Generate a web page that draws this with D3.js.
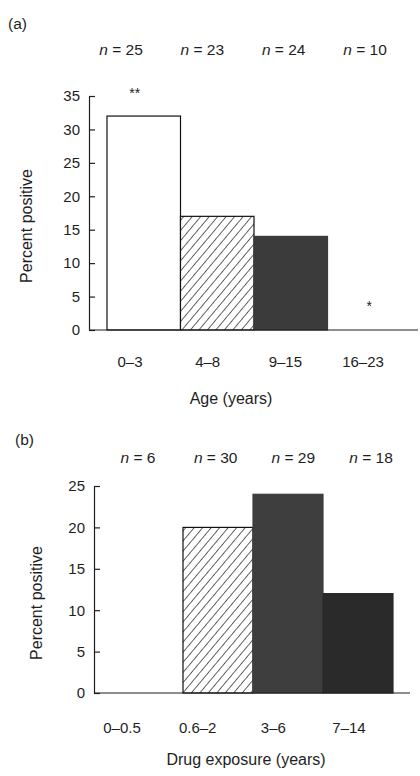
<!DOCTYPE html>
<html><head><meta charset="utf-8">
<script src="https://cdn.jsdelivr.net/npm/d3@7"></script>
<style>
html,body{margin:0;padding:0;background:#fff;}
text{font-family:"Liberation Sans",Arial,Helvetica,sans-serif;fill:#1e1e1e;}
</style></head>
<body><svg id="c" width="420" height="776"></svg>
<script>
// ---- data ----
const ageCats = ["0–3", "4–8", "9–15", "16–23"];
const ageValues = [32, 17, 14, 0];
const ageN = [25, 23, 24, 10];
const ageSig = ["**", "", "", "*"];
const ageTicks = [0, 5, 10, 15, 20, 25, 30, 35];

const drugCats = ["0–0.5", "0.6–2", "3–6", "7–14"];
const drugValues = [0, 20, 24, 12];
const drugN = [6, 30, 29, 18];
const drugTicks = [0, 5, 10, 15, 20, 25];

const fillsA = ["white", "hatch", "#3b3b3b", "white"];
const fillsB = ["white", "hatch", "#3e3e3e", "#2a2a2a"];

const svg = d3.select("#c");
const defs = svg.append("defs");
const pat = defs.append("pattern").attr("id", "hatch").attr("patternUnits", "userSpaceOnUse")
  .attr("width", 6.5).attr("height", 6.5).attr("patternTransform", "rotate(40)");
pat.append("rect").attr("width", 6.5).attr("height", 6.5).attr("fill", "#fff");
pat.append("line").attr("x1", 0).attr("y1", 0).attr("x2", 0).attr("y2", 6.5)
  .attr("stroke", "#111").attr("stroke-width", 1.3);

function panel(cfg) {
  const g = svg.append("g");
  const y = d3.scaleLinear().domain([0, cfg.ymax]).range([cfg.y0, cfg.y1]);
  const x = d3.scaleBand().domain(cfg.cats).range([cfg.bx0, cfg.bx1]).padding(0);
  const xl = d3.scalePoint().domain(cfg.cats).range(cfg.labRange);
  const xn = d3.scalePoint().domain(cfg.cats).range(cfg.nRange);

  // bars
  g.selectAll("rect.bar").data(cfg.cats).join("rect").attr("class", "bar")
    .attr("x", d => x(d)).attr("width", x.bandwidth())
    .attr("y", (d, i) => y(cfg.values[i]))
    .attr("height", (d, i) => y(0) - y(cfg.values[i]))
    .attr("fill", (d, i) => cfg.fills[i] === "hatch" ? "url(#hatch)" : cfg.fills[i])
    .attr("stroke", (d, i) => cfg.values[i] === 0 ? "none" : (cfg.fills[i] === "white" || cfg.fills[i] === "hatch" ? "#111" : cfg.fills[i]))
    .attr("stroke-width", 1.2);

  // y axis
  const ya = g.append("g").attr("transform", `translate(${cfg.ax},0)`)
    .call(d3.axisLeft(y).tickValues(cfg.ticks).tickSizeInner(-6).tickSizeOuter(0).tickPadding(9));
  ya.select(".domain").attr("stroke", "#1e1e1e").attr("stroke-width", 1.2);
  ya.selectAll(".tick line").attr("stroke", "#1e1e1e").attr("stroke-width", 1.2);
  ya.selectAll(".tick text").style("font-size", "15px").attr("fill", "#1e1e1e");

  // x axis line
  g.append("line").attr("x1", cfg.ax).attr("x2", cfg.xEnd).attr("y1", y(0)).attr("y2", y(0))
    .attr("stroke", "#1e1e1e").attr("stroke-width", 1.2);

  // category labels
  g.selectAll("text.cat").data(cfg.cats).join("text").attr("class", "cat")
    .attr("x", d => xl(d)).attr("y", cfg.catY).attr("text-anchor", "middle")
    .style("font-size", "15px").text(d => d);

  // n labels
  const nt = g.selectAll("text.n").data(cfg.cats).join("text").attr("class", "n")
    .attr("x", d => xn(d)).attr("y", cfg.nY).attr("text-anchor", "middle").style("font-size", "15.5px");
  nt.append("tspan").style("font-style", "italic").text("n");
  nt.append("tspan").text((d, i) => " = " + cfg.n[i]);

  // panel letter
  g.append("text").attr("x", cfg.letterX).attr("y", cfg.letterY).style("font-size", "15.5px").text(cfg.letter);

  // axis titles
  g.append("text").attr("transform", `translate(${cfg.ytX},${cfg.ytY}) rotate(-90)`)
    .attr("text-anchor", "middle").style("font-size", "16px").text("Percent positive");
  g.append("text").attr("x", cfg.xtX).attr("y", cfg.xtY).attr("text-anchor", "middle")
    .style("font-size", "16px").text(cfg.xTitle);

  return { g, x, y };
}

const A = panel({
  cats: ageCats, values: ageValues, n: ageN, fills: fillsA, ticks: ageTicks, ymax: 35,
  y0: 330, y1: 96, bx0: 107, bx1: 401, ax: 89, xEnd: 418,
  labRange: [130, 363], nRange: [121, 365], catY: 367, nY: 55,
  letter: "(a)", letterX: 8, letterY: 29, ytX: 32, ytY: 226, xtX: 231, xtY: 404, xTitle: "Age (years)"
});
// significance marks
A.g.selectAll("text.sig").data(ageCats).join("text").attr("class", "sig")
  .attr("x", d => A.x(d) + A.x.bandwidth() / 2 + (ageSig[ageCats.indexOf(d)] === "*" ? 5 : -9))
  .attr("y", (d, i) => ageValues[i] > 0 ? A.y(35) + 2 : A.y(0) - 19)
  .attr("text-anchor", "middle").style("font-size", "14px").text((d, i) => ageSig[i]);

panel({
  cats: drugCats, values: drugValues, n: drugN, fills: fillsB, ticks: drugTicks, ymax: 25,
  y0: 693, y1: 486, bx0: 113, bx1: 393, ax: 94, xEnd: 410,
  labRange: [122, 349], nRange: [138, 371], catY: 733, nY: 463,
  letter: "(b)", letterX: 15, letterY: 445, ytX: 42, ytY: 603, xtX: 246, xtY: 765, xTitle: "Drug exposure (years)"
});
</script></body></html>
